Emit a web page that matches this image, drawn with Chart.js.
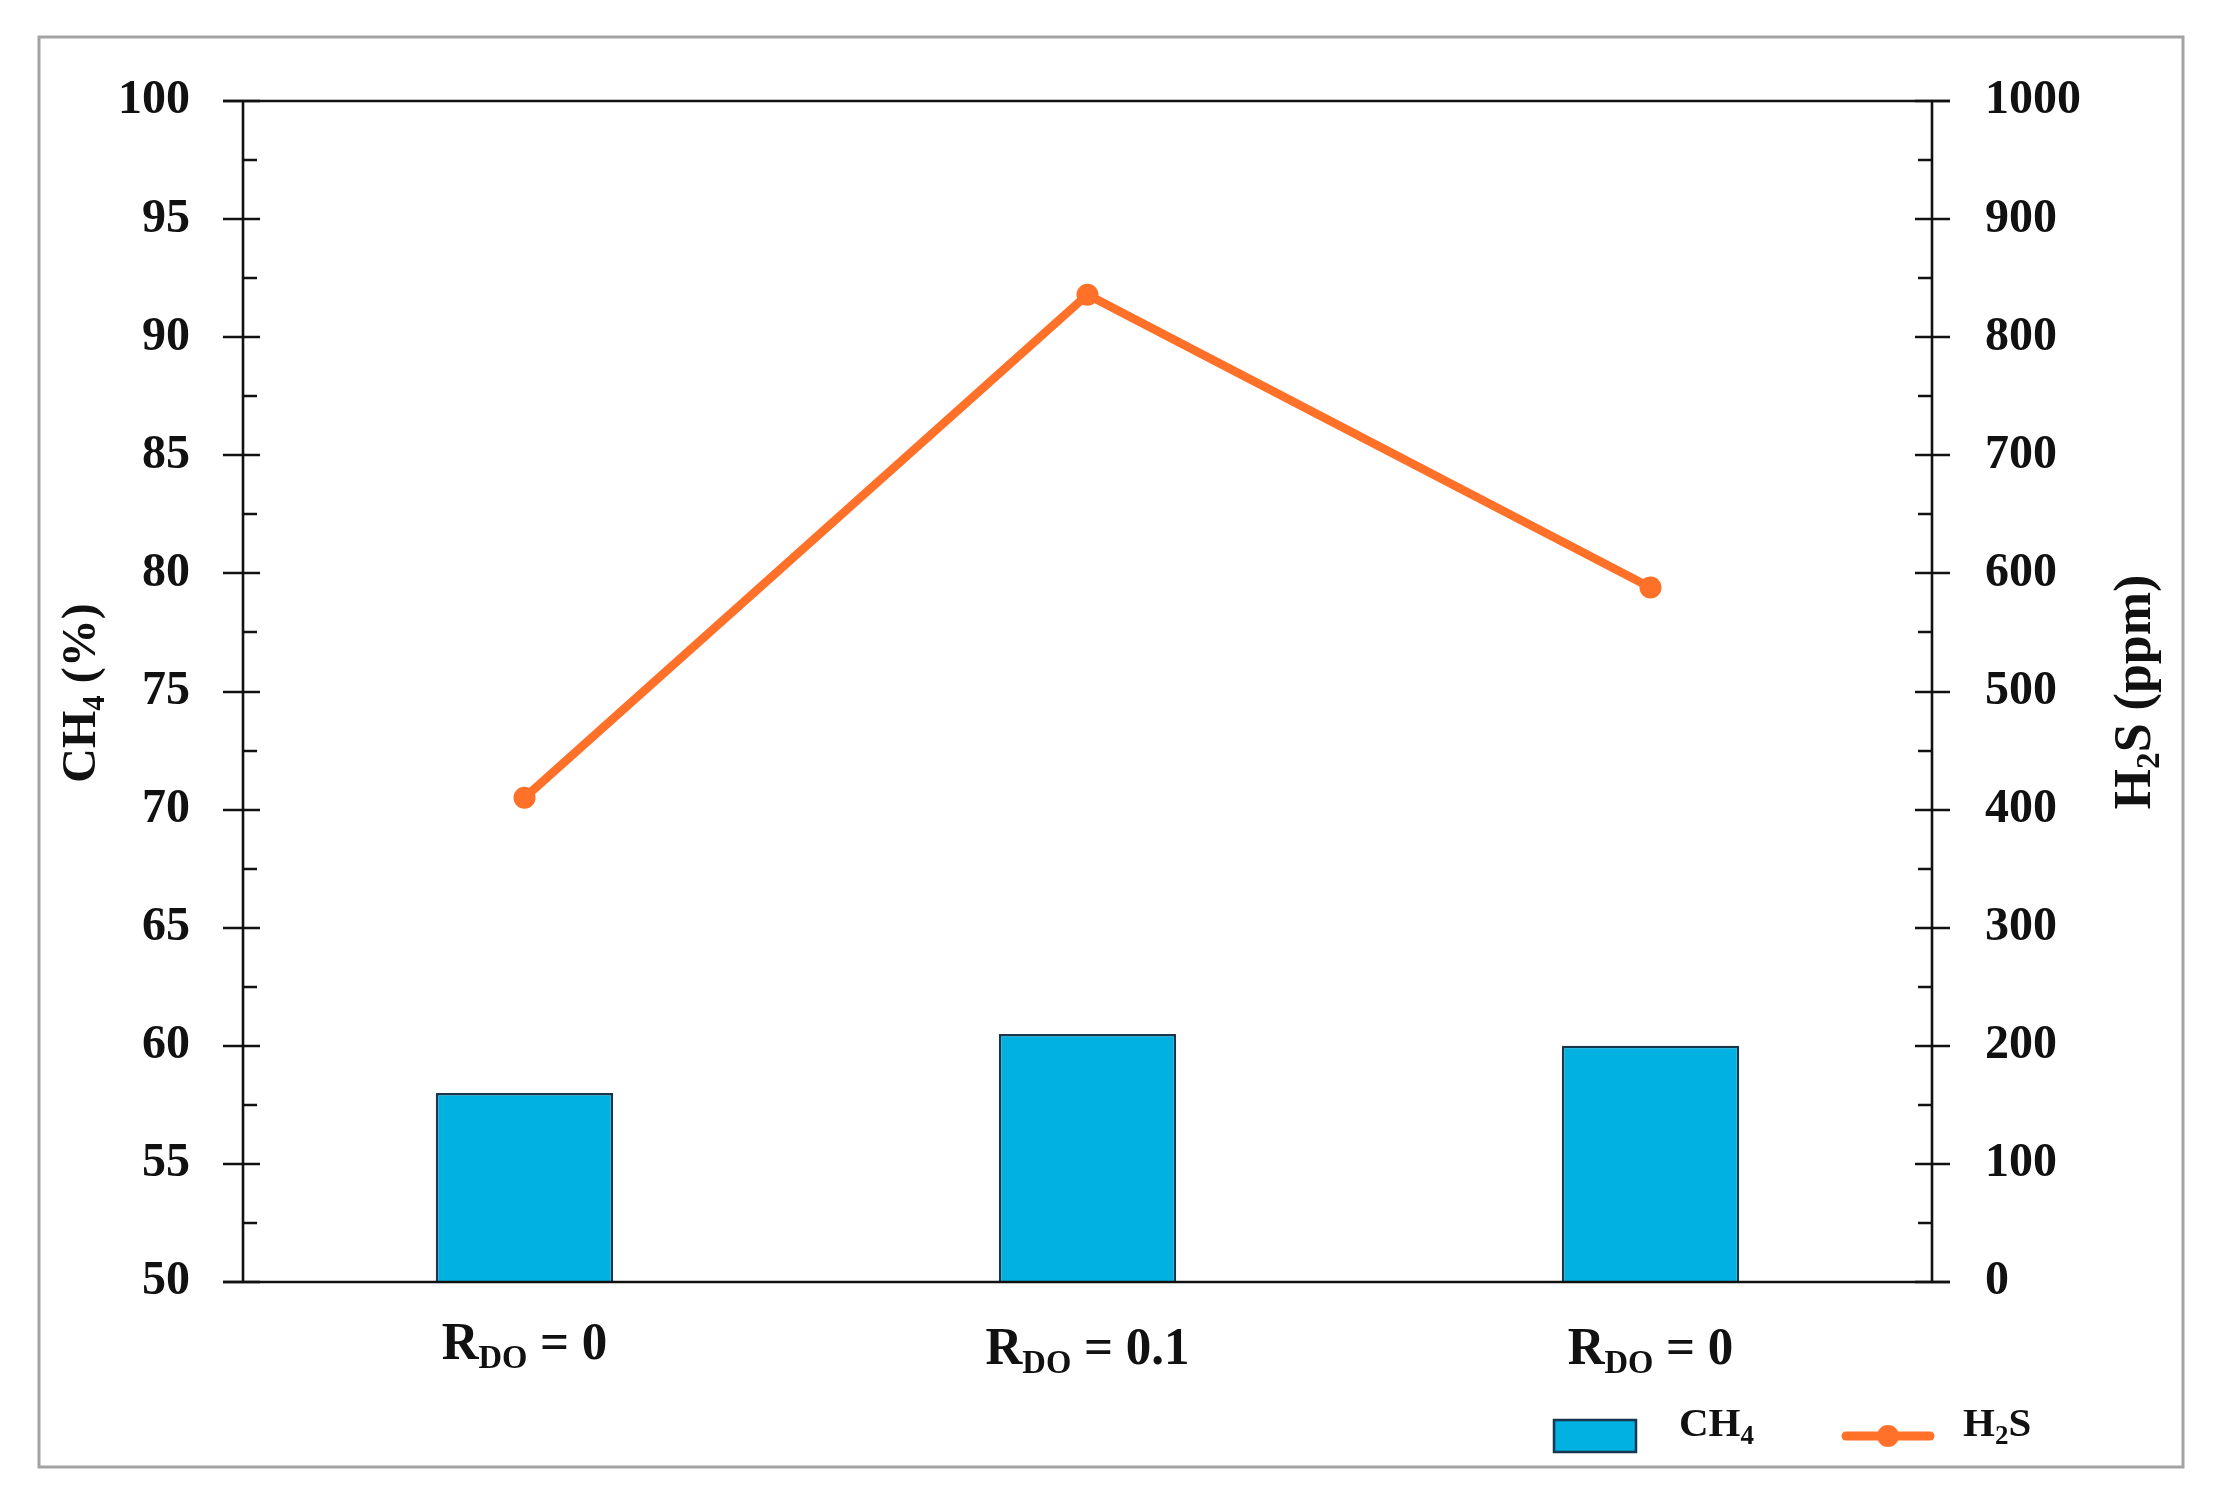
<!DOCTYPE html>
<html>
<head>
<meta charset="utf-8">
<script src="https://cdn.jsdelivr.net/npm/chart.js@4/dist/chart.umd.min.js"></script>
<style>
  html, body { margin: 0; padding: 0; background: #ffffff; }
  #wrap { width: 2221px; height: 1506px; }
</style>
</head>
<body>
<div id="wrap"><canvas id="c" width="2221" height="1506"></canvas></div>
<script>
// ---- data ----
const categories = ['R_{DO} = 0', 'R_{DO} = 0.1', 'R_{DO} = 0'];
const ch4Values = [58.0, 60.5, 60.0];     // CH4 (%), left axis
const h2sValues = [410, 836, 588];        // H2S (ppm), right axis
const seriesNames = ['CH₄', 'H₂S'];
const axisTitles = ['CH₄ (%)', 'H₂S (ppm)'];
const leftRange = [50, 100, 5];           // min, max, step
const rightRange = [0, 1000, 100];

// ---- rich text helper (subscripts) ----
const SUB = {'₀':'0','₁':'1','₂':'2','₃':'3','₄':'4','₅':'5','₆':'6','₇':'7','₈':'8','₉':'9'};
function parseRich(str) {
  const segs = [];
  const push = (t, sub) => {
    if (!t) return;
    const last = segs[segs.length - 1];
    if (last && last.sub === sub) last.text += t; else segs.push({ text: t, sub });
  };
  let i = 0;
  while (i < str.length) {
    const c = str[i];
    if (c === '_' && str[i + 1] === '{') {
      const end = str.indexOf('}', i);
      push(str.slice(i + 2, end), true); i = end + 1; continue;
    }
    if (SUB[c] !== undefined) { push(SUB[c], true); i++; continue; }
    push(c, false); i++;
  }
  return segs;
}
function drawRich(ctx, str, x, y, o) {
  const segs = parseRich(str);
  const fontFor = s => `${o.weight} ${s.sub ? o.size * o.subScale : o.size}px ${o.family}`;
  let w = 0;
  segs.forEach(s => { ctx.font = fontFor(s); s.w = ctx.measureText(s.text).width; w += s.w; });
  ctx.save();
  ctx.translate(x, y);
  if (o.rotate) ctx.rotate(o.rotate);
  ctx.scale(o.scaleX || 1, 1);
  let cx = o.align === 'center' ? -w / 2 : (o.align === 'right' ? -w : 0);
  ctx.textBaseline = 'alphabetic';
  ctx.textAlign = 'left';
  ctx.fillStyle = o.color;
  segs.forEach(s => { ctx.font = fontFor(s); ctx.fillText(s.text, cx, s.sub ? o.subDrop : 0); cx += s.w; });
  ctx.restore();
}

const BAR_FILL = '#00B1E2';
const BAR_EDGE = '#17374F';
const LINE_COL = '#FF7029';
const AXIS_COL = '#111111';
const SERIF = '"Liberation Serif", serif';

const decor = {
  id: 'decor',
  afterDraw(chart) {
    const ctx = chart.ctx;
    const a = chart.chartArea;
    const y = chart.scales.y, y1 = chart.scales.y1, x = chart.scales.x;
    ctx.save();
    // outer frame
    ctx.strokeStyle = '#a3a3a3';
    ctx.lineWidth = 3;
    ctx.strokeRect(39, 37, 2144, 1430);

    // axes
    ctx.strokeStyle = AXIS_COL;
    ctx.lineWidth = 2.6;
    ctx.beginPath();
    ctx.moveTo(a.left, a.top); ctx.lineTo(a.left, a.bottom);
    ctx.moveTo(a.right, a.top); ctx.lineTo(a.right, a.bottom);
    ctx.moveTo(a.left - 20, a.top); ctx.lineTo(a.right + 18, a.top);
    ctx.moveTo(a.left - 20, a.bottom); ctx.lineTo(a.right + 18, a.bottom);
    ctx.stroke();

    // left ticks
    ctx.beginPath();
    for (let v = leftRange[0]; v <= leftRange[1] + 1e-9; v += leftRange[2] / 2) {
      const p = Math.round(y.getPixelForValue(v));
      const major = Math.abs((v - leftRange[0]) % leftRange[2]) < 1e-6;
      if (major) { ctx.moveTo(a.left - 20, p); ctx.lineTo(a.left + 17, p); }
      else { ctx.moveTo(a.left, p); ctx.lineTo(a.left + 14, p); }
    }
    // right ticks
    for (let v = rightRange[0]; v <= rightRange[1] + 1e-9; v += rightRange[2] / 2) {
      const p = Math.round(y1.getPixelForValue(v));
      const major = Math.abs((v - rightRange[0]) % rightRange[2]) < 1e-6;
      if (major) { ctx.moveTo(a.right - 17, p); ctx.lineTo(a.right + 18, p); }
      else { ctx.moveTo(a.right - 14, p); ctx.lineTo(a.right, p); }
    }
    ctx.stroke();

    // category labels
    categories.forEach((lab, i) => {
      const px = x.getPixelForValue(i);
      drawRich(ctx, lab, px, i === 0 ? 1359 : 1364, {
        weight: 'bold', size: 52, family: SERIF,
        subScale: 0.64, subDrop: 9, align: 'center', scaleX: 0.98, color: '#111'
      });
    });

    // axis titles
    drawRich(ctx, axisTitles[0], 95, 693, {
      weight: 'bold', size: 48, family: SERIF,
      subScale: 0.64, subDrop: 9, align: 'center', rotate: -Math.PI / 2, color: '#111'
    });
    drawRich(ctx, axisTitles[1], 2150, 692, {
      weight: 'bold', size: 52, family: SERIF,
      subScale: 0.64, subDrop: 9, align: 'center', rotate: -Math.PI / 2, color: '#111'
    });

    // legend
    ctx.fillStyle = BAR_FILL;
    ctx.fillRect(1554, 1420, 82, 32);
    ctx.strokeStyle = BAR_EDGE;
    ctx.lineWidth = 2.5;
    ctx.strokeRect(1554, 1420, 82, 32);
    drawRich(ctx, seriesNames[0], 1679, 1436, {
      weight: 'bold', size: 41, family: SERIF,
      subScale: 0.66, subDrop: 8, align: 'left', color: '#111'
    });
    ctx.strokeStyle = LINE_COL;
    ctx.lineWidth = 9;
    ctx.lineCap = 'round';
    ctx.beginPath(); ctx.moveTo(1846, 1436); ctx.lineTo(1930, 1436); ctx.stroke();
    ctx.fillStyle = LINE_COL;
    ctx.beginPath(); ctx.arc(1888, 1436, 11, 0, Math.PI * 2); ctx.fill();
    drawRich(ctx, seriesNames[1], 1963, 1436, {
      weight: 'bold', size: 41, family: SERIF,
      subScale: 0.66, subDrop: 8, align: 'left', color: '#111'
    });
    ctx.restore();
  }
};

const tickFont = { family: SERIF, weight: 'bold', size: 48 };
const plainNum = v => String(v);

new Chart(document.getElementById('c'), {
  type: 'bar',
  data: {
    labels: categories,
    datasets: [
      {
        type: 'line', label: seriesNames[1], data: h2sValues, yAxisID: 'y1', order: 1,
        borderColor: LINE_COL, backgroundColor: LINE_COL, borderWidth: 8.5,
        pointRadius: 11, pointBorderWidth: 0, pointBackgroundColor: LINE_COL,
        tension: 0, fill: false
      },
      {
        type: 'bar', label: seriesNames[0], data: ch4Values, yAxisID: 'y', order: 2,
        backgroundColor: BAR_FILL, borderColor: BAR_EDGE, borderWidth: 2.5,
        categoryPercentage: 1, barPercentage: 0.315, base: 50
      }
    ]
  },
  options: {
    responsive: false,
    devicePixelRatio: 1,
    animation: false,
    layout: { padding: { top: 101, left: 0, right: 0, bottom: 0 } },
    plugins: { legend: { display: false }, tooltip: { enabled: false } },
    scales: {
      x: {
        grid: { display: false, drawTicks: false },
        border: { display: false },
        ticks: { display: false },
        afterFit(s) { s.height = 224; }
      },
      y: {
        position: 'left',
        min: leftRange[0], max: leftRange[1],
        grid: { display: false, drawTicks: false },
        border: { display: false },
        ticks: { stepSize: leftRange[2], font: tickFont, color: '#111', padding: 53, callback: plainNum },
        afterFit(s) { s.width = 243; }
      },
      y1: {
        position: 'right',
        min: rightRange[0], max: rightRange[1],
        grid: { display: false, drawTicks: false },
        border: { display: false },
        ticks: { stepSize: rightRange[2], font: tickFont, color: '#111', padding: 53, callback: plainNum },
        afterFit(s) { s.width = 289; }
      }
    }
  },
  plugins: [decor]
});
</script>
</body>
</html>
